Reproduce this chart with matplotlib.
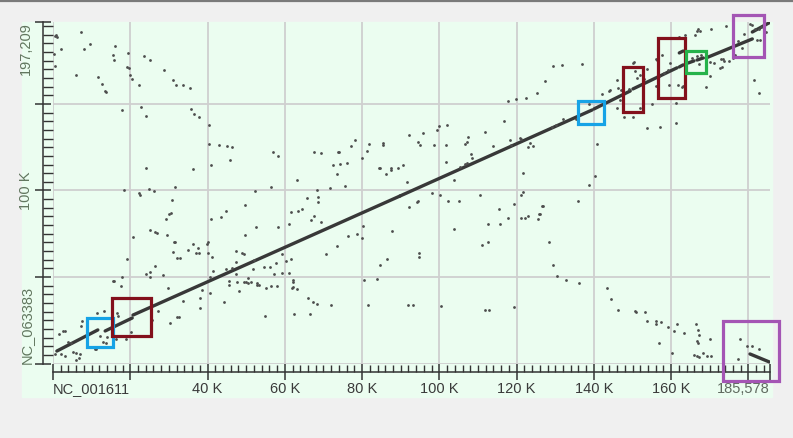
# dotplot_nc001611_nc063383.py
# -*- coding: utf-8 -*-
"""
Dot plot de similitud entre NC_001611 (eje X) y NC_063383 (eje Y).
Coordenadas en kb, leídas a ojo de la figura original.
"""

import numpy as np
import matplotlib.pyplot as plt
from matplotlib.patches import Rectangle
from matplotlib.lines import Line2D
from matplotlib.ticker import MultipleLocator

plt.rcParams['font.family'] = ['Liberation Sans', 'DejaVu Sans']

# Longitudes de las secuencias (pb)
len_x = 185578   # NC_001611
len_y = 197209   # NC_063383

# Etiquetas de los ejes
xticks = [0, 20000, 40000, 60000, 80000, 100000, 120000, 140000, 160000, 180000, len_x]
xlabels = ['NC_001611', '', '40 K', '60 K', '80 K', '100 K', '120 K', '140 K', '160 K', '', '185,578']
yticks = [0, 50000, 100000, 150000, len_y]
ylabels = ['NC_063383', '', '100 K', '', '197,209']

# Tramos del alineamiento principal (kb): (x_ini, x_fin, y_ini, y_fin)
segmentos = [
    (1.0, 11.6, 7.2, 19.4),
    (13.5, 20.5, 18.8, 26.3),
    (20.7, 89.8, 28.0, 96.8),
    (89.8, 139.5, 96.8, 146.5),
    (140.0, 149.4, 147.1, 157.5),
    (150.1, 161.5, 158.7, 170.9),
    (162.1, 163.1, 171.4, 172.6),
    (164.4, 165.9, 173.7, 174.9),
    (166.7, 168.3, 175.4, 176.6),
    (169.0, 181.0, 176.6, 187.6),
    (181.0, 185.5, 191.6, 197.1),
    (162.1, 163.1, 179.5, 180.6),
    (180.4, 185.4, 5.5, 0.9),   # tramo invertido
]

# Coincidencias sueltas (kb)
puntos_x = [
    0.5, 0.8, 1.0, 7.3, 2.1, 8.0, 9.6, 0.3, 0.5, 6.0, 16.1, 15.5, 15.8, 19.4, 19.2, 19.7, 19.9, 20.5,
    11.7, 12.7, 13.5, 13.7, 23.6, 25.1, 28.7, 22.3, 31.1, 31.8, 33.7, 35.5, 17.9, 22.8, 24.1, 35.7,
    36.5, 37.8, 40.4, 40.4, 43.0, 45.1, 46.3,
    40.9, 45.8, 24.1, 36.2, 18.4, 22.3, 22.5, 24.9, 26.1, 31.6, 52.3, 30.8, 49.7, 44.8, 43.5, 40.9,
    30.5, 30.0, 29.3, 52.6, 25.1, 26.4, 26.9, 29.5, 20.7, 49.7, 31.3, 31.6, 36.2, 37.5, 39.9, 40.1,
    35.0, 37.0, 37.8, 31.1, 40.1, 41.2, 32.1, 32.9, 47.4, 48.9, 49.5, 19.2, 47.4, 52.0, 26.4, 46.3,
    44.8, 41.4, 47.4, 24.1, 25.1, 25.1, 28.5, 17.9, 15.5, 17.6, 29.8, 40.6, 50.5, 45.6, 45.6, 49.5,
    50.5, 52.8, 52.8,
    15.8, 11.4, 13.2, 16.6, 16.8, 7.5, 7.3, 1.6, 2.6, 3.1, 3.9, 4.7, 5.2, 6.0, 7.0, 6.7, 6.0, 2.1,
    3.1, 0.5, 10.9, 11.1, 12.2, 13.0, 13.7, 14.0, 16.3, 18.9, 20.2, 25.6, 27.2, 30.3, 32.1, 32.6,
    38.1, 38.1, 33.7, 38.6, 40.6, 44.3, 48.2, 50.0, 54.9, 56.4, 58.0, 62.1, 62.4, 62.1, 63.2, 47.6,
    51.3,
    57.0, 58.3, 56.4, 58.3, 51.8, 53.3, 54.6, 56.2, 57.2, 59.3, 57.7, 59.3, 60.3, 61.6, 61.1, 62.1,
    61.9, 66.0, 55.2, 61.1, 61.6, 63.4, 64.5, 63.2, 65.8, 66.8, 67.6, 68.4, 68.6, 68.6, 69.4, 70.7,
    71.7, 72.5, 73.5, 73.8, 74.1, 67.6, 69.4, 74.3, 76.1, 75.6, 77.2, 78.2, 73.5, 76.4, 78.7, 80.0,
    80.3, 80.0, 80.5, 81.8, 81.3, 83.9, 84.4, 84.7, 85.4, 85.4, 86.2, 87.5, 87.5, 89.3, 90.6, 84.7,
    86.5, 87.8, 91.7, 92.2, 92.2, 94.2, 94.5, 94.8, 94.8, 94.5, 95.0, 95.8, 98.1, 98.6, 99.4, 99.9,
    102.0, 100.2, 101.8, 101.8, 102.3, 103.8, 105.1, 103.8, 105.4, 106.7, 107.2, 106.7, 107.2, 107.4,
    108.2, 108.5, 110.6, 111.1, 111.8, 112.6, 112.6, 113.9, 115.5, 115.7, 116.8, 117.8, 118.3, 118.6,
    119.4, 120.9, 121.2, 121.7, 121.7, 121.2, 122.2, 123.0, 123.0, 123.5, 125.6, 125.8, 126.6, 128.4,
    67.3, 68.4, 72.0, 66.5, 81.6, 91.9, 93.2, 100.5, 111.8, 112.9,
    132.8, 136.2, 119.4, 143.4, 144.5, 146.3, 150.7, 151.0, 153.3, 153.8, 156.1, 156.1, 157.4, 159.2,
    160.8, 161.6, 163.4, 160.3, 156.9, 166.5, 167.0, 167.3, 166.7, 167.0, 170.1, 166.0, 166.7, 167.3,
    168.3, 169.3, 170.4, 177.9, 177.4, 179.7, 181.0, 182.8,
    140.8, 140.3, 138.8, 135.9, 126.9, 126.1, 129.5, 130.5,
    167.0, 167.5, 166.7, 170.4, 174.2, 180.5, 181.0, 166.2, 163.6, 162.1, 156.4, 157.7, 159.7, 158.2,
    159.2, 170.1, 171.1, 173.0, 173.5, 172.7, 173.2, 170.1, 169.1, 176.1, 178.4, 177.4, 178.9, 181.8,
    182.8, 183.3, 182.3, 183.1, 182.0, 181.5, 182.8, 163.1, 161.8, 159.5, 161.3, 161.3, 155.1, 157.2,
    153.8, 156.1, 153.0, 151.2, 152.0, 150.2, 147.8, 149.1, 150.2, 150.4, 150.7, 146.0, 146.3, 144.2,
    142.1, 146.8, 146.0, 137.0, 131.8, 129.5, 127.4, 125.3, 122.5, 119.9, 117.8, 138.8, 135.4, 132.0,
    130.2, 129.2, 124.3, 121.2, 143.9, 147.1, 152.0, 167.3, 165.4, 166.7, 167.8, 173.7, 175.0, 153.8,
    156.1, 156.9, 162.8, 176.6, 184.6,
]
puntos_y = [
    189.3, 189.9, 188.7, 191.6, 181.8, 181.8, 184.7, 178.9, 172.0, 166.8, 183.5, 178.3, 175.4, 179.5,
    171.4, 170.8, 166.8, 164.4, 165.6, 161.5, 157.5, 156.9, 177.7, 175.4, 169.7, 161.0, 163.9, 161.0,
    161.0, 159.2, 146.5, 148.3, 143.1, 147.1, 144.2, 142.5, 137.8, 126.9, 126.3, 125.7, 125.1,
    114.7, 117.6, 113.0, 112.4, 100.3, 98.5, 97.4, 100.8, 99.7, 102.0, 99.7, 94.5, 91.6, 88.1, 84.7,
    83.5, 87.0, 86.4, 83.5, 78.9, 77.2, 76.0, 75.4, 74.3, 73.1, 74.3, 70.2, 70.0, 69.1, 66.8, 69.1,
    70.2, 65.6, 63.9, 63.9, 64.4, 63.9, 61.6, 61.0, 61.0, 65.0, 63.9, 63.3, 60.4, 58.7, 59.8, 56.4,
    55.2, 54.6, 53.5, 51.7, 51.7, 52.9, 50.0, 51.2, 50.0, 47.7, 44.8, 43.6, 50.0, 49.4, 47.7, 45.4,
    47.1, 46.5, 46.5, 45.4,
    47.7, 29.2, 30.3, 29.2, 27.5, 24.6, 21.7, 17.1, 18.8, 18.8, 12.4, 11.8, 6.6, 6.1, 5.5, 3.2, 2.0,
    5.5, 4.3, 5.5, 8.4, 8.4, 15.9, 12.4, 11.8, 15.3, 14.2, 14.2, 18.2, 25.1, 30.3, 23.4, 26.9, 26.9,
    32.1, 37.9, 36.1, 42.5, 40.7, 35.5, 41.9, 47.1, 27.5, 44.8, 44.8, 47.1, 28.6, 44.2, 43.1, 47.1,
    47.1,
    122.2, 119.9, 102.0, 78.9, 54.6, 45.4, 55.8, 55.8, 51.7, 52.3, 58.1, 63.3, 59.2, 60.4, 52.3, 48.3,
    43.6, 37.9, 43.6, 80.6, 87.6, 88.1, 89.3, 106.0, 95.7, 82.9, 85.3, 100.3, 96.2, 93.3, 81.8, 63.3,
    101.4, 114.7, 109.5, 122.2, 122.2, 122.2, 121.6, 115.3, 115.9, 102.6, 125.7, 129.2, 67.9, 73.7,
    74.9, 72.5, 79.5, 118.7, 48.3, 126.9, 122.8, 48.8, 113.0, 113.0, 127.4, 126.3, 109.5, 113.0, 111.8,
    113.0, 114.7, 56.9, 60.4, 76.6, 104.9, 90.5, 132.0, 93.3, 93.9, 63.9, 61.6, 128.0, 126.3, 133.2,
    98.5, 126.3, 134.9, 137.3, 137.8, 97.4, 126.3, 116.4, 93.9, 106.0, 93.9, 77.7, 113.6, 115.3, 115.9,
    126.9, 128.0, 130.9, 121.1, 118.7, 97.4, 68.5, 133.8, 80.6, 70.2, 125.7, 89.3, 80.6, 140.2, 84.1,
    129.2, 126.3, 92.2, 130.3, 84.1, 110.1, 99.1, 97.4, 84.1, 85.3, 125.1, 127.4, 83.5, 86.4, 91.0,
    70.2,
    35.5, 34.4, 33.8, 28.6, 33.8, 33.8, 33.8, 33.2, 30.9, 30.9,
    48.3, 46.5, 32.6, 43.6, 37.3, 30.9, 30.3, 30.0, 29.8, 24.6, 24.6, 22.8, 24.0, 21.1, 18.8, 22.8,
    17.6, 6.1, 11.8, 22.8, 19.4, 16.5, 13.0, 11.8, 14.2, 4.9, 4.3, 3.8, 6.1, 4.3, 4.3, 14.2, 2.6,
    10.1, 10.1, 8.4,
    126.9, 108.4, 103.2, 93.9, 91.0, 86.4, 56.9, 50.6,
    193.3, 192.2, 192.2, 193.3, 195.1, 196.2, 195.7, 189.9, 189.9, 188.7, 175.4, 178.3, 173.7, 167.9,
    169.7, 174.3, 173.7, 176.0, 176.0, 170.8, 171.4, 166.2, 159.8, 176.6, 182.4, 186.4, 190.4, 193.3,
    193.3, 194.5, 187.0, 187.0, 177.2, 163.9, 156.3, 160.4, 161.0, 161.0, 139.0, 150.6, 150.0, 136.7,
    136.1, 160.4, 164.4, 165.0, 147.7, 142.5, 142.5, 158.7, 173.7, 174.3, 169.1, 163.9, 159.2, 158.1,
    155.8, 152.3, 147.7, 173.1, 172.5, 172.0, 163.3, 156.3, 153.4, 152.9, 151.7, 150.0, 141.3, 141.3,
    137.8, 136.7, 125.7, 129.7, 157.5, 158.1, 166.8, 173.1, 176.6, 177.7, 178.3, 174.9, 174.9, 170.2,
    176.0, 166.2, 159.8, 178.3, 191.6,
]

# Recuadros de regiones destacadas (kb): (x0, x1, y0, y1)
recuadros = [
    (8.8, 15.5, 9.5, 26.3),
    (15.3, 25.4, 15.9, 37.9),
    (135.9, 142.7, 138.4, 151.7),
    (147.6, 152.8, 145.4, 171.4),
    (156.6, 163.6, 153.4, 188.1),
    (163.9, 169.1, 167.9, 180.6),
    (176.1, 184.1, 177.2, 201.4),
    (173.5, 188.0, -10.1, 24.6),
]
colores_recuadros = ['#16a3e6', '#83101c', '#16a3e6', '#83101c', '#83101c',
                     '#25b24a', '#a455b4', '#a455b4']

VERDE = '#ebfdf0'
GRIS_EJE = '#333333'


def main():
    fig = plt.figure(figsize=(7.93, 4.38), dpi=100, facecolor='#f0f0f0')

    # panel verde de fondo y línea superior
    fig.add_artist(Rectangle((22 / 793, 41 / 438), 750 / 793, 375 / 438,
                             transform=fig.transFigure, color=VERDE, zorder=-1))
    fig.add_artist(Line2D([0, 1], [0.998, 0.998], transform=fig.transFigure,
                          color='#7a7a7a', lw=1.6))

    ax = fig.add_axes([53 / 793, 74.5 / 438, 717 / 793, 341.2 / 438])
    ax.set_facecolor(VERDE)
    ax.set_xlim(0, len_x)
    ax.set_ylim(0, len_y)

    # alineamientos
    for x0, x1, y0, y1 in segmentos:
        ax.plot([x0 * 1000, x1 * 1000], [y0 * 1000, y1 * 1000], color='#383838',
                lw=2.4, solid_capstyle='round', zorder=3)
    ax.scatter(np.array(puntos_x) * 1000, np.array(puntos_y) * 1000, s=4,
               color='#4d4d4d', linewidths=0, zorder=3)

    for (x0, x1, y0, y1), c in zip(recuadros, colores_recuadros):
        ax.add_patch(Rectangle((x0 * 1000, y0 * 1000), (x1 - x0) * 1000, (y1 - y0) * 1000,
                               fill=False, ec=c, lw=2.3, clip_on=False, zorder=5))

    # ejes
    for lado in ('top', 'right'):
        ax.spines[lado].set_visible(False)
    ax.spines['left'].set_position(('outward', 7.2))
    ax.spines['bottom'].set_position(('outward', 6.1))
    for lado in ('left', 'bottom'):
        ax.spines[lado].set_color(GRIS_EJE)
        ax.spines[lado].set_linewidth(1.1)

    ax.set_xticks(xticks)
    ax.set_xticklabels(xlabels)
    ax.set_yticks(yticks)
    ax.set_yticklabels(ylabels, rotation=90)
    ax.xaxis.set_minor_locator(MultipleLocator(2000))
    ax.yaxis.set_minor_locator(MultipleLocator(5000))

    ax.tick_params(which='major', direction='inout', length=11.5, width=1.1,
                   color=GRIS_EJE, labelsize=10.5)
    ax.tick_params(axis='x', which='major', pad=1.5, labelcolor='#3a3a3a')
    ax.tick_params(axis='y', which='major', pad=1.2, labelcolor='#62765f')
    ax.tick_params(axis='x', which='minor', direction='in', length=2.9, width=1.0,
                   color=GRIS_EJE)
    ax.tick_params(axis='y', which='minor', direction='in', length=7.0, width=1.0,
                   color=GRIS_EJE)

    # marcas intermedias cada 10 K en X
    for t in ax.xaxis.get_minor_ticks():
        if abs(t.get_loc() % 10000) < 1:
            t.tick1line.set_markersize(5.0)

    labs = ax.get_xticklabels()
    labs[0].set_ha('left')
    labs[-1].set_ha('right')
    labs[-1].set_color('#5f6a5f')
    ylabs = ax.get_yticklabels()
    ylabs[0].set_va('bottom')
    ylabs[2].set_va('center')
    ylabs[-1].set_va('top')

    ax.grid(True, which='major', color='#cfcfcf', lw=1.3, zorder=1)
    ax.set_axisbelow(True)
    ax.xaxis.get_major_ticks()[-1].gridline.set_visible(False)
    ax.yaxis.get_major_ticks()[-1].gridline.set_visible(False)

    fig.savefig('out.png', dpi=100, facecolor=fig.get_facecolor())


if __name__ == "__main__":
    main()
